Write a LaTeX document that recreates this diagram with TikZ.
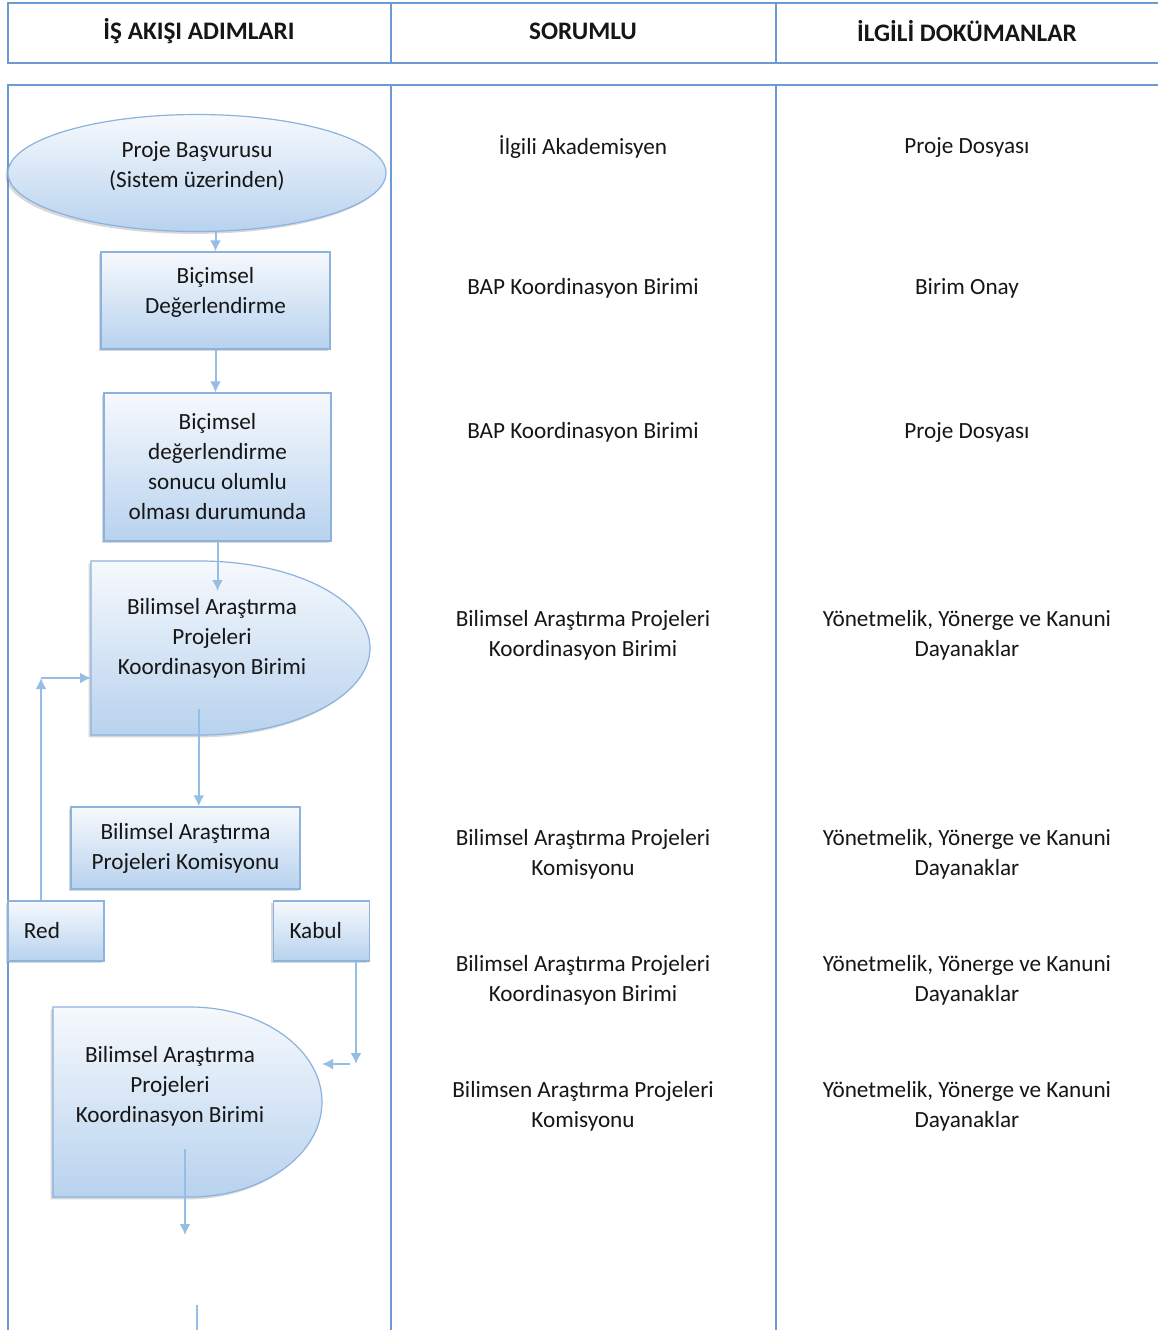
\documentclass[tikz,border=0pt]{standalone}
\usepackage{fontspec}
\setmainfont{Carlito}
\usetikzlibrary{shapes.geometric,shadows,calc,arrows.meta}
\definecolor{gridc}{RGB}{108,154,212}
\definecolor{arrowc}{RGB}{150,190,228}
\definecolor{edgec}{RGB}{140,178,222}
\definecolor{topc}{RGB}{246,249,253}
\definecolor{botc}{RGB}{184,210,238}
\definecolor{txt}{RGB}{22,22,22}
\begin{document}
\begin{tikzpicture}[x=.5pt,y=.5pt,>={Latex[length=5.5pt,width=5.5pt]},font=\fontsize{11.6}{15}\selectfont,
  cell/.style={align=center,text=txt},
  stepfill/.style={draw=edgec,line width=.6pt,top color=topc,bottom color=botc,
    drop shadow={shadow xshift=-1.2pt,shadow yshift=-1.2pt,opacity=.3}},
  box/.style={stepfill,rectangle,align=center,text=txt,inner sep=0pt},
  tag/.style={box,text width=32pt,align=left,inner xsep=8pt,minimum height=30pt},
  arr/.style={->,draw=arrowc,line width=1pt},
  gridline/.style={draw=gridc,line width=1.2pt}]
  \useasboundingbox (0,0) rectangle (1158,-1330);
  \fill[white] (0,0) rectangle (1158,-1330);
  \draw[gridline] (1175,-3) -- (8,-3) -- (8,-63) -- (1175,-63)
    (391,-3) -- (391,-63) (776,-3) -- (776,-63);
  \draw[gridline] (1175,-85) -- (8,-85) -- (8,-1345)
    (391,-85) -- (391,-1345) (776,-85) -- (776,-1345);
  \foreach \x/\h [count=\i] in {199/{İŞ AKIŞI ADIMLARI},583/SORUMLU,967/{İLGİLİ DOKÜMANLAR}}
    \node[cell,font=\fontsize{12.6}{15}\selectfont\bfseries] (h\i) at (\x,-31) {\h};
  \foreach \y/\s/\d [count=\i] in {
      147/{İlgili Akademisyen}/{Proje Dosyası},
      288/{BAP Koordinasyon Birimi}/{Birim Onay},
      432/{BAP Koordinasyon Birimi}/{Proje Dosyası},
      635/{Bilimsel Araştırma Projeleri\\Koordinasyon Birimi}/{Yönetmelik, Yönerge ve Kanuni\\Dayanaklar},
      854/{Bilimsel Araştırma Projeleri\\Komisyonu}/{Yönetmelik, Yönerge ve Kanuni\\Dayanaklar},
      980/{Bilimsel Araştırma Projeleri\\Koordinasyon Birimi}/{Yönetmelik, Yönerge ve Kanuni\\Dayanaklar},
      1106/{Bilimsen Araştırma Projeleri\\Komisyonu}/{Yönetmelik, Yönerge ve Kanuni\\Dayanaklar}}
  {
    \node[cell] (sor\i) at (583,-\y) {\s};
    \node[cell] (dok\i) at (967,-\y) {\d};
  }

  \node[box,ellipse,minimum width=189pt,minimum height=58.5pt,text depth=8pt] (ell) at (197,-173)
    {Proje Başvurusu\\(Sistem üzerinden)};
  \node[box,minimum width=114.5pt,minimum height=48.5pt,text depth=10pt] (bic1) at (215.5,-300.5)
    {Biçimsel\\Değerlendirme};
  \node[box,minimum width=113.5pt,minimum height=74pt] (bic2) at (217.5,-467)
    {Biçimsel\\değerlendirme\\sonucu olumlu\\olması durumunda};
  \coordinate (kb1nw) at (91,-561);
  \path[stepfill] (kb1nw) -- ++(109,0) arc[start angle=90,end angle=-90,x radius=170,y radius=87]
    -- (91,-735) -- cycle;
  \node[cell] (kb1) at (212,-638) {Bilimsel Araştırma\\Projeleri\\Koordinasyon Birimi};
  \node[box,minimum width=114.5pt,minimum height=41pt] (kom) at (185.5,-848)
    {Bilimsel Araştırma\\Projeleri Komisyonu};
  \node[tag] (red) at (56,-931) {Red};
  \node[tag] (kabul) at (321.5,-931) {Kabul};
  \coordinate (kb2e) at (322,-1102);
  \path[stepfill] (53,-1007) -- (190,-1007) arc[start angle=90,end angle=-90,x radius=132,y radius=95]
    -- (53,-1197) -- cycle;
  \node[cell] (kb2) at (170,-1086) {Bilimsel Araştırma\\Projeleri\\Koordinasyon Birimi};

  \draw[arr] (ell.south -| bic1.north) -- (bic1.north);
  \draw[arr] (bic1.south) -- (bic1.south |- bic2.north);
  \draw[arr] (bic2.south) -- (bic2.south |- kb1.north);
  \coordinate (m1) at ($(kb1.south)!.5!(kb1.south -| kom.north)$);
  \draw[arr] ([yshift=-12pt]m1) -- (m1 |- kom.north);
  \coordinate (rturn) at (41,-678);
  \draw[arr] (red.north -| rturn) -- (rturn);
  \draw[arr] (rturn) -- (rturn -| kb1nw);
  \coordinate (kturn) at (356,-1064);
  \draw[arr] (kabul.south -| kturn) -- (kturn);
  \draw[arr] ([xshift=-3pt]kturn) -- (kturn -| kb2e);
  \coordinate (kb2out) at (185,-1235);
  \draw[arr] ([yshift=-8pt]kb2.south -| kb2out) -- (kb2out);
  \coordinate (nxt) at (197,-1305);
  \draw[arr,-] (nxt) -- ++(0,-40);
\end{tikzpicture}
\end{document}
